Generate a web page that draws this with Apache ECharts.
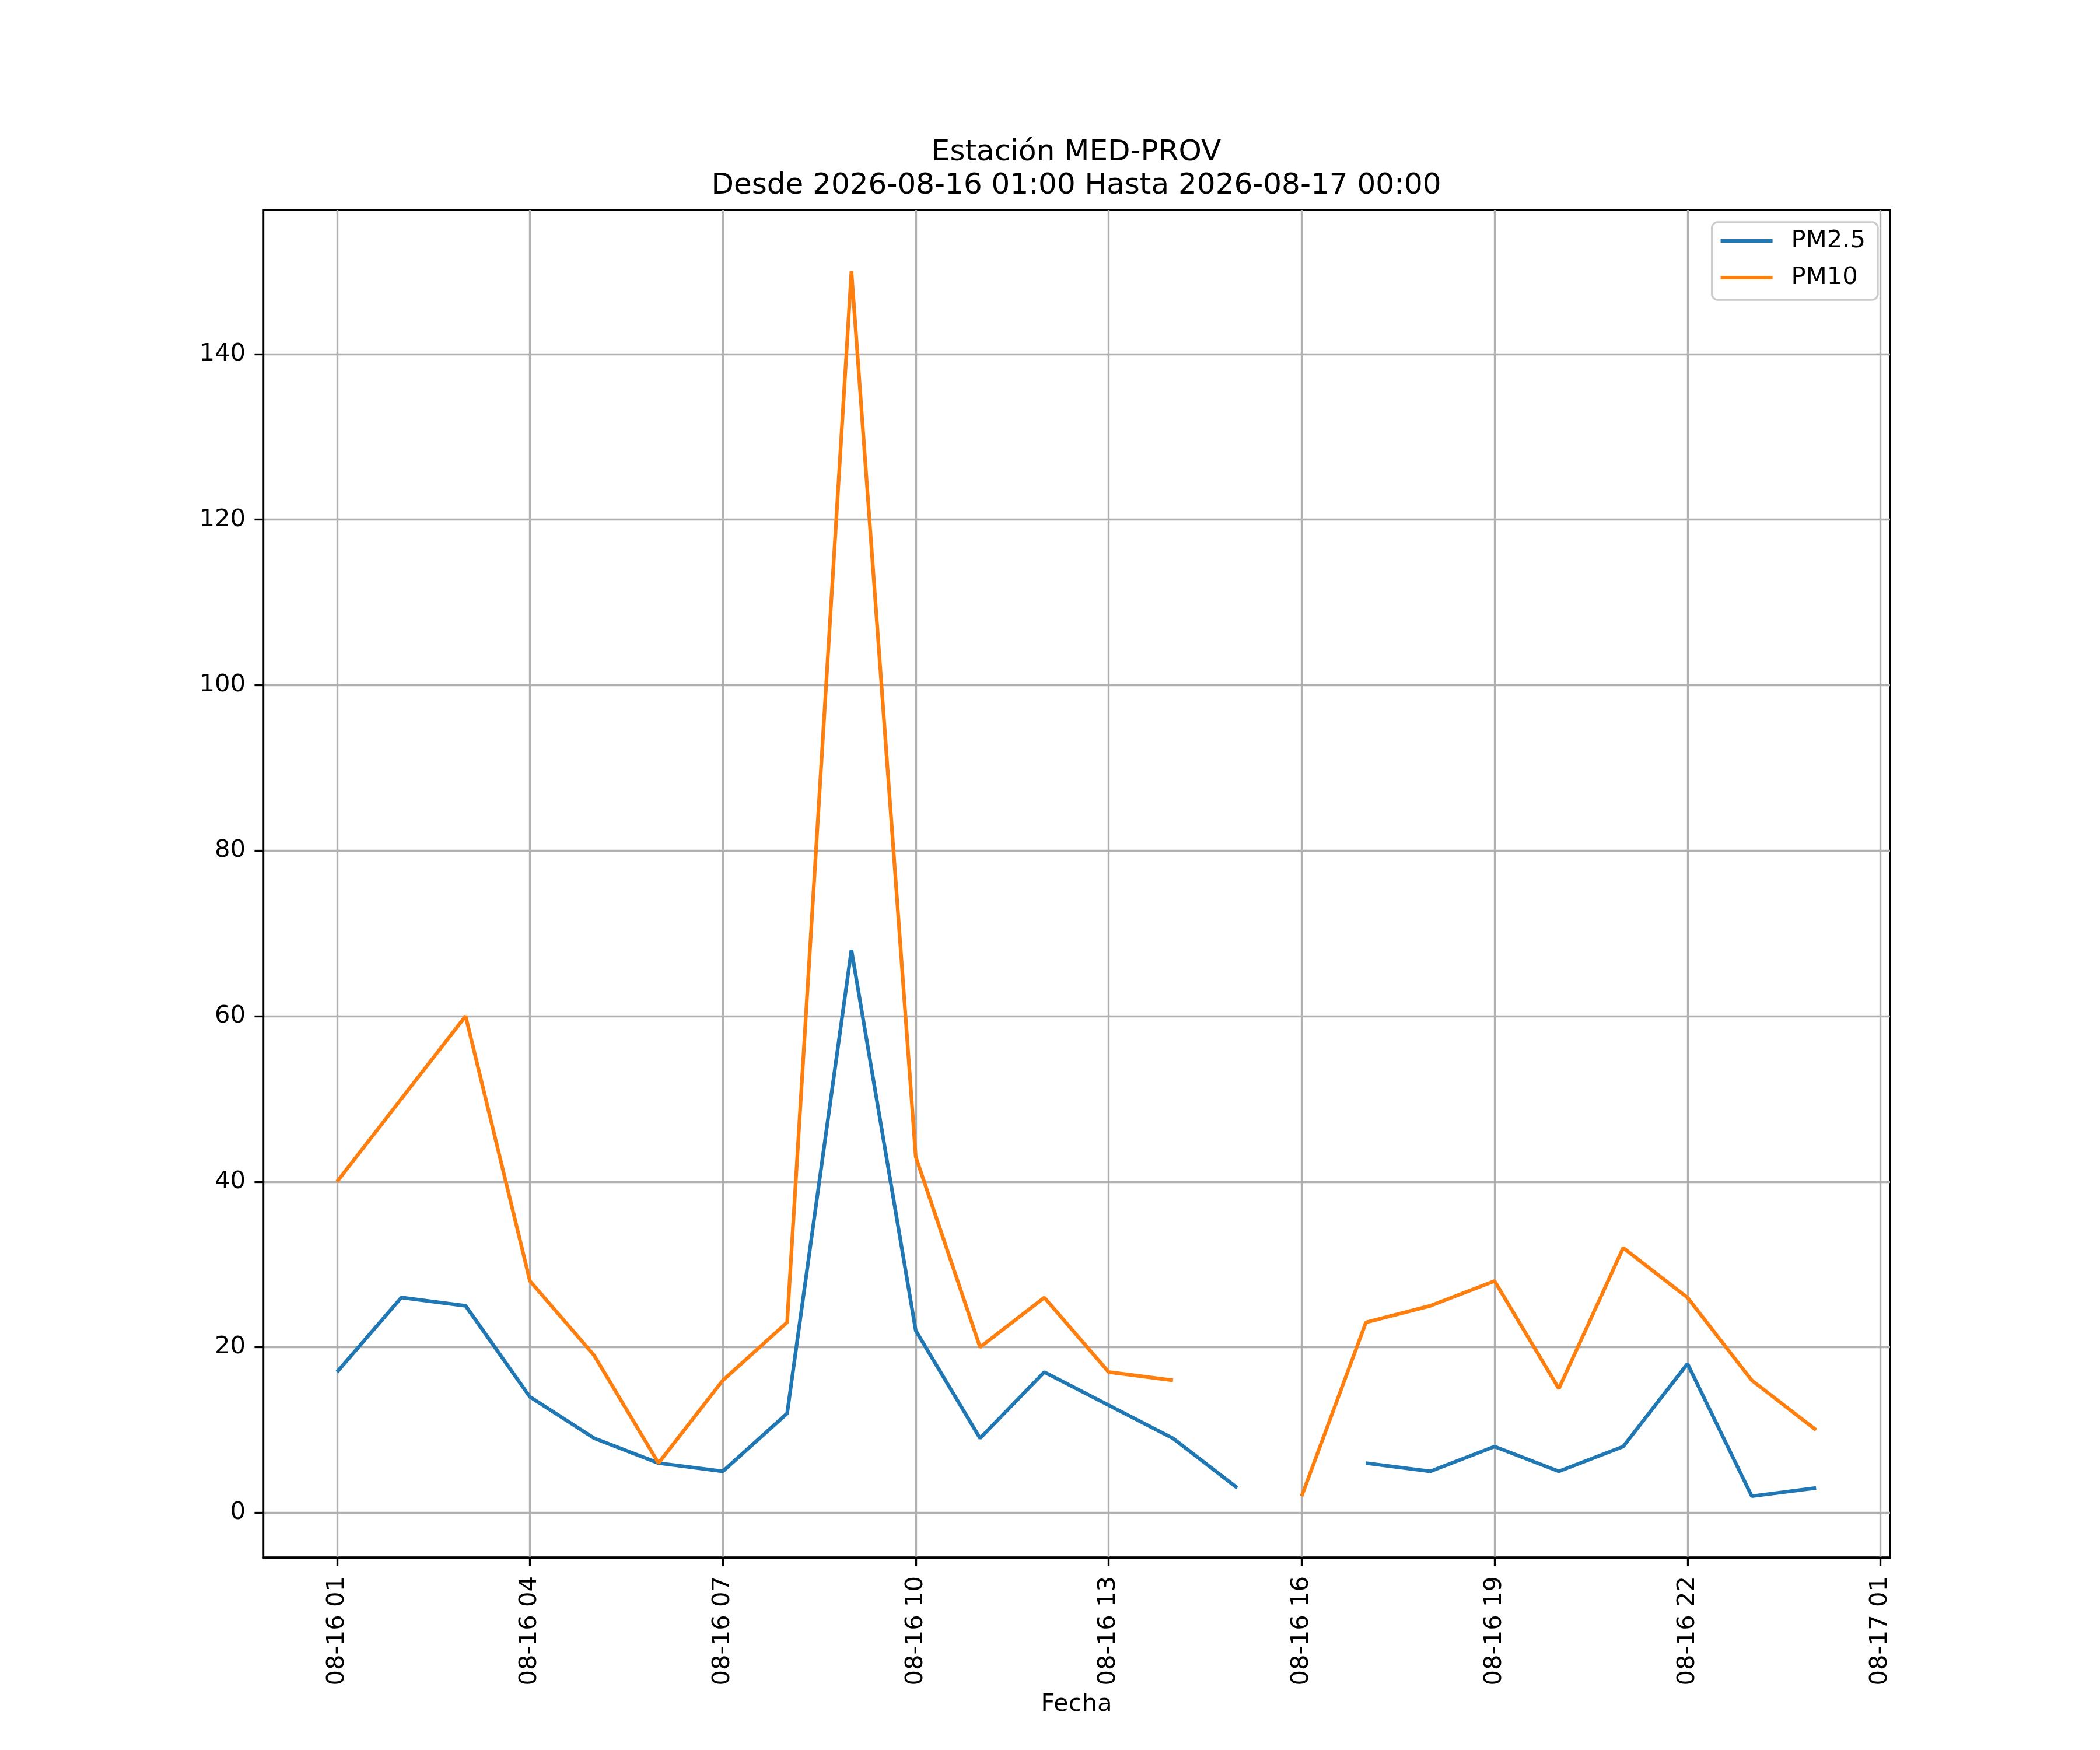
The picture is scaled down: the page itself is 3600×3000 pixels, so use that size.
<!DOCTYPE html>
<html>
<head>
<meta charset="utf-8">
<script src="https://cdn.jsdelivr.net/npm/echarts@6/dist/echarts.min.js"></script>
<style>
html,body{margin:0;padding:0;background:#fff;}
#chart{width:3600px;height:3000px;}
</style>
</head>
<body>
<div id="chart"></div>
<script>
// ---- data ----
const hours = [1,2,3,4,5,6,7,8,9,10,11,12,13,14,15,16,17,18,19,20,21,22,23,24];
const pm25 = [17,26,25,14,9,6,5,12,68,22,9,17,13,9,3,null,6,5,8,5,8,18,2,3];
const pm10 = [40,50,60,28,19,6,16,23,150,43,20,26,17,16,null,2,23,25,28,15,32,26,16,10];
const xTickValues = [1,4,7,10,13,16,19,22,25];
const xTickLabels = ['08-16 01','08-16 04','08-16 07','08-16 10','08-16 13','08-16 16','08-16 19','08-16 22','08-17 01'];
const yTickValues = [0,20,40,60,80,100,120,140];
const titleLines = ['Estación MED-PROV','Desde 2026-08-16 01:00 Hasta 2026-08-17 00:00'];
const seriesNames = ['PM2.5','PM10'];
const xLabel = 'Fecha';

const FONT = 'DejaVu Sans';
const FS = 41.7;
const LW = 3.33;

function pairs(vals){ return hours.map((h,i)=>[h, vals[i]===null ? '-' : vals[i]]); }

const chart = echarts.init(document.getElementById('chart'), null, {renderer:'canvas'});
chart.setOption({
  animation:false,
  backgroundColor:'#ffffff',
  textStyle:{fontFamily:FONT},
  title:{
    text:titleLines.join('\n'),
    left:1845, top:234, textAlign:'center', padding:0,
    textStyle:{fontFamily:FONT, fontSize:50, fontWeight:'normal', color:'#000', lineHeight:57}
  },
  legend:{
    data:seriesNames,
    orient:'vertical', right:381, top:381,
    padding:[11,21,17,15], itemGap:21,
    icon:'rect', itemWidth:89, itemHeight:6,
    backgroundColor:'rgba(255,255,255,0.8)',
    borderColor:'#cccccc', borderWidth:LW, borderRadius:10,
    textStyle:{fontFamily:FONT, fontSize:FS, color:'#000', padding:[0,0,0,27]}
  },
  grid:{
    left:451, right:360, top:360, bottom:330,
    show:true, borderColor:'#000', borderWidth:LW, backgroundColor:'transparent',
    containLabel:false, outerBoundsMode:'none'
  },
  xAxis:{
    type:'value', min:-0.15, max:25.15,
    name:xLabel, nameLocation:'middle', nameGap:231,
    nameTextStyle:{fontFamily:FONT, fontSize:FS, color:'#000'},
    axisLine:{show:true, onZero:false, lineStyle:{color:'#000', width:LW}},
    axisTick:{show:true, inside:false, length:14.6, lineStyle:{color:'#000', width:LW}, customValues:xTickValues},
    axisLabel:{show:true, rotate:90, margin:32, fontFamily:FONT, fontSize:FS, color:'#000',
      customValues:xTickValues,
      formatter:function(v){ const i = xTickValues.indexOf(v); return i>=0 ? xTickLabels[i] : ''; }},
    splitLine:{show:true, lineStyle:{color:'#b0b0b0', width:LW}}
  },
  yAxis:{
    type:'value', min:-5.4, max:157.4,
    axisLine:{show:true, onZero:false, lineStyle:{color:'#000', width:LW}},
    axisTick:{show:true, inside:false, length:14.6, lineStyle:{color:'#000', width:LW}, customValues:yTickValues},
    axisLabel:{show:true, margin:30, fontFamily:FONT, fontSize:FS, color:'#000', customValues:yTickValues,
      formatter:function(v){ return String(v); }},
    splitLine:{show:true, lineStyle:{color:'#b0b0b0', width:LW}}
  },
  series:[
    {name:seriesNames[0], type:'line', data:pairs(pm25), symbol:'none', showSymbol:false, connectNulls:false,
     color:'#1f77b4', lineStyle:{color:'#1f77b4', width:6.25}, itemStyle:{color:'#1f77b4'}},
    {name:seriesNames[1], type:'line', data:pairs(pm10), symbol:'none', showSymbol:false, connectNulls:false,
     color:'#ff7f0e', lineStyle:{color:'#ff7f0e', width:6.25}, itemStyle:{color:'#ff7f0e'}}
  ]
});
</script>
</body>
</html>
